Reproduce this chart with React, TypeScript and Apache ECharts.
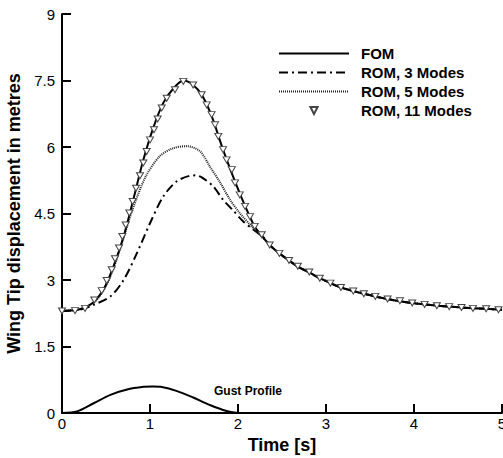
import React, { useEffect, useRef } from "react";
import * as echarts from "echarts";

const xTicks = [0, 1, 2, 3, 4, 5];
const yTicks = [0, 1.5, 3, 4.5, 6, 7.5, 9];

const fom: [number, number][] = [
  [0, 2.3], [0.1, 2.31], [0.2, 2.34], [0.3, 2.42], [0.36, 2.5], [0.47, 2.78],
  [0.58, 3.28], [0.7, 3.98], [0.81, 4.81], [0.92, 5.68], [1.04, 6.45], [1.15, 6.99],
  [1.27, 7.33], [1.38, 7.5], [1.49, 7.4], [1.59, 7.17], [1.7, 6.7], [1.83, 5.94],
  [1.97, 5.2], [2.08, 4.67], [2.19, 4.2], [2.27, 4.0], [2.36, 3.79], [2.47, 3.6],
  [2.58, 3.44], [2.68, 3.3], [2.81, 3.17], [2.93, 3.04], [3.05, 2.93], [3.17, 2.83],
  [3.31, 2.75], [3.43, 2.69], [3.56, 2.63], [3.7, 2.57], [3.84, 2.52], [3.98, 2.48],
  [4.12, 2.45], [4.26, 2.42], [4.4, 2.4], [4.54, 2.38], [4.67, 2.36], [4.82, 2.35], [5.0, 2.33],
];

const rom3: [number, number][] = [
  [0, 2.3], [0.2, 2.33], [0.36, 2.44], [0.55, 2.63], [0.7, 3.0], [0.85, 3.6],
  [1.0, 4.28], [1.15, 4.88], [1.3, 5.22], [1.45, 5.35], [1.52, 5.36], [1.6, 5.3],
  [1.72, 5.11], [1.83, 4.81], [1.94, 4.58], [2.06, 4.32], [2.18, 4.13], [2.29, 3.96],
  [2.36, 3.79], [2.47, 3.6], [2.58, 3.44], [2.68, 3.3], [2.81, 3.17], [2.93, 3.04],
  [3.05, 2.93], [3.17, 2.83], [3.31, 2.75], [3.43, 2.69], [3.56, 2.63], [3.7, 2.57],
  [3.84, 2.52], [3.98, 2.48], [4.12, 2.45], [4.26, 2.42], [4.4, 2.4], [4.54, 2.38],
  [4.67, 2.36], [4.82, 2.35], [5.0, 2.33],
];

const rom5: [number, number][] = [
  [0, 2.3], [0.2, 2.34], [0.36, 2.49], [0.47, 2.76], [0.55, 3.08], [0.66, 3.7],
  [0.8, 4.58], [0.95, 5.33], [1.11, 5.79], [1.26, 5.97], [1.42, 6.02], [1.57, 5.9],
  [1.68, 5.56], [1.8, 5.19], [1.91, 4.81], [2.02, 4.51], [2.14, 4.24], [2.25, 4.02],
  [2.36, 3.79], [2.47, 3.6], [2.58, 3.44], [2.68, 3.3], [2.81, 3.17], [2.93, 3.04],
  [3.05, 2.93], [3.17, 2.83], [3.31, 2.75], [3.43, 2.69], [3.56, 2.63], [3.7, 2.57],
  [3.84, 2.52], [3.98, 2.48], [4.12, 2.45], [4.26, 2.42], [4.4, 2.4], [4.54, 2.38],
  [4.67, 2.36], [4.82, 2.35], [5.0, 2.33],
];

const rom11: [number, number][] = [
  [0.0, 2.3], [0.148, 2.31], [0.261, 2.36], [0.367, 2.55], [0.451, 2.76], [0.508, 2.99],
  [0.565, 3.23], [0.602, 3.48], [0.648, 3.72], [0.686, 3.98], [0.724, 4.24], [0.765, 4.51],
  [0.803, 4.77], [0.841, 5.07], [0.886, 5.35], [0.924, 5.64], [0.962, 5.9], [1.0, 6.16],
  [1.045, 6.39], [1.087, 6.63], [1.133, 6.88], [1.19, 7.1], [1.284, 7.29], [1.378, 7.48],
  [1.49, 7.4], [1.587, 7.18], [1.644, 6.95], [1.7, 6.73], [1.739, 6.5], [1.776, 6.24],
  [1.83, 5.94], [1.87, 5.71], [1.93, 5.49], [1.966, 5.19], [2.02, 4.92], [2.08, 4.66],
  [2.136, 4.43], [2.19, 4.21], [2.27, 4.02], [2.36, 3.79], [2.47, 3.6], [2.58, 3.44],
  [2.68, 3.31], [2.81, 3.18], [2.93, 3.04], [3.05, 2.93], [3.17, 2.83], [3.31, 2.75],
  [3.43, 2.69], [3.56, 2.63], [3.7, 2.57], [3.84, 2.53], [3.98, 2.48], [4.12, 2.45],
  [4.26, 2.42], [4.4, 2.4], [4.54, 2.38], [4.67, 2.36], [4.82, 2.35], [4.96, 2.33],
];

const gust: [number, number][] = [
  [0, 0], [0.17, 0.035], [0.36, 0.22], [0.55, 0.41], [0.74, 0.53], [0.93, 0.59],
  [1.03, 0.6], [1.12, 0.59], [1.3, 0.5], [1.49, 0.35], [1.68, 0.18], [1.87, 0.045], [2.0, 0],
];

const FONT = "'Liberation Sans', Arial, Helvetica, sans-serif";

export default function App() {
  const ref = useRef<HTMLDivElement>(null);
  useEffect(() => {
    if (!ref.current) return;
    const chart = echarts.init(ref.current, undefined, { renderer: "svg" });
    const hideSym = { itemStyle: { opacity: 0 } };
    chart.setOption({
      animation: false,
      backgroundColor: "#ffffff",
      textStyle: { fontFamily: FONT },
      grid: {
        left: 62,
        right: 1,
        top: 14,
        bottom: 45,
        containLabel: false,
        outerBoundsMode: "none",
      },
      legend: {
        orient: "vertical",
        left: 278,
        top: 46,
        padding: 0,
        itemWidth: 70,
        itemHeight: 9,
        itemGap: 4,
        data: [
          { name: "FOM", ...hideSym },
          { name: "ROM, 3 Modes", ...hideSym },
          { name: "ROM, 5 Modes", ...hideSym },
          { name: "ROM, 11 Modes" },
        ],
        textStyle: {
          fontFamily: FONT,
          fontSize: 15,
          lineHeight: 14,
          fontWeight: "bold",
          color: "#000",
          padding: [0, 0, 0, 7],
        },
      },
      xAxis: {
        type: "value",
        min: xTicks[0],
        max: xTicks[xTicks.length - 1],
        interval: 1,
        name: "Time [s]",
        nameLocation: "middle",
        nameGap: 21,
        nameTextStyle: { fontFamily: FONT, fontSize: 18, fontWeight: "bold", color: "#000" },
        axisLine: { show: true, lineStyle: { color: "#000", width: 2 } },
        axisTick: { show: true, inside: true, length: 9, lineStyle: { color: "#000", width: 2 } },
        axisLabel: { color: "#000", fontSize: 15, margin: 3, fontFamily: FONT },
        splitLine: { show: false },
      },
      yAxis: {
        type: "value",
        min: yTicks[0],
        max: yTicks[yTicks.length - 1],
        interval: 1.5,
        name: "Wing Tip displacement in metres",
        nameLocation: "middle",
        nameGap: 25,
        nameTextStyle: { fontFamily: FONT, fontSize: 18, fontWeight: "bold", color: "#000" },
        axisLine: { show: true, lineStyle: { color: "#000", width: 2 } },
        axisTick: { show: true, inside: true, length: 9, lineStyle: { color: "#000", width: 2 } },
        axisLabel: { color: "#000", fontSize: 15, margin: 7, fontFamily: FONT },
        splitLine: { show: false },
      },
      graphic: [
        {
          type: "text",
          x: 248,
          y: 391,
          style: {
            text: "Gust Profile",
            font: `bold 12px ${FONT}`,
            fill: "#000",
            textAlign: "center",
            textVerticalAlign: "middle",
          },
        },
      ],
      series: [
        {
          name: "FOM",
          type: "line",
          data: fom,
          smooth: 0.3,
          symbol: "none",
          lineStyle: { color: "#000", width: 2 },
          itemStyle: { color: "#000" },
          z: 3,
        },
        {
          name: "ROM, 3 Modes",
          type: "line",
          data: rom3,
          smooth: 0.3,
          symbol: "none",
          lineStyle: { color: "#000", width: 2, type: [9, 4, 2, 4] },
          itemStyle: { color: "#000" },
          z: 2,
        },
        {
          name: "ROM, 5 Modes",
          type: "line",
          data: rom5,
          smooth: 0.3,
          symbol: "none",
          lineStyle: { color: "#222", width: 2, type: [1, 1] },
          itemStyle: { color: "#222" },
          z: 2,
        },
        {
          name: "ROM, 11 Modes",
          type: "line",
          data: rom11,
          symbol: "triangle",
          symbolSize: [7, 6],
          symbolRotate: 180,
          showSymbol: true,
          lineStyle: { width: 0, opacity: 0 },
          itemStyle: { color: "#ffffff", borderColor: "#444", borderWidth: 1 },
          z: 4,
        },
        {
          name: "Gust",
          type: "line",
          data: gust,
          smooth: 0.3,
          symbol: "none",
          lineStyle: { color: "#000", width: 2 },
          z: 3,
        },
      ],
    });
    return () => chart.dispose();
  }, []);
  return (
    <div
      ref={ref}
      style={{ position: "absolute", left: 0, top: 0, width: 503, height: 458 }}
    />
  );
}
